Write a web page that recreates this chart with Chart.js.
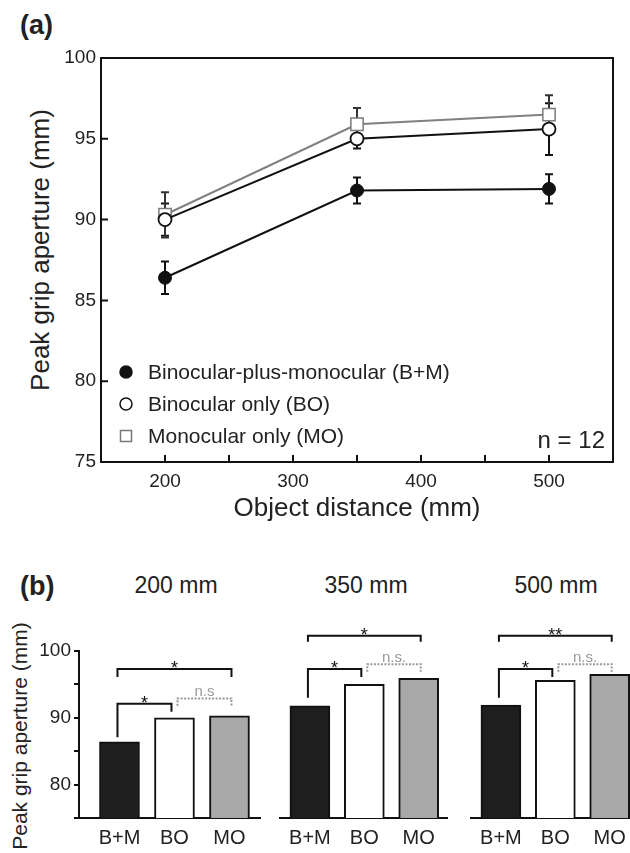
<!DOCTYPE html>
<html>
<head>
<meta charset="utf-8">
<script src="https://cdn.jsdelivr.net/npm/chart.js@4.4.1/dist/chart.umd.min.js"></script>
<style>
  body { margin: 0; width: 630px; height: 853px; overflow: hidden; background: #fff; position: relative;
         font-family: "Liberation Sans", Arial, Helvetica, sans-serif; color: #222; }
  canvas, .lbl { position: absolute; }
  .panel { font-weight: bold; font-size: 27px; line-height: 30px; }
  .dist { font-size: 23px; line-height: 28px; transform: translateX(-50%); white-space: nowrap; }
  .ytitle { line-height: 30px; width: 320px; text-align: center; transform: rotate(-90deg); white-space: nowrap; }
</style>
</head>
<body>
<div class="lbl panel" style="left:20px; top:10px;">(a)</div>
<div class="lbl ytitle" style="font-size:26px; left:-120px; top:235px;">Peak grip aperture (mm)</div>
<canvas id="lineChart" width="630" height="545" style="left:0; top:0;"></canvas>

<div class="lbl panel" style="left:20px; top:571px;">(b)</div>
<div class="lbl dist" style="left:176px; top:571px;">200 mm</div>
<div class="lbl dist" style="left:366px; top:571px;">350 mm</div>
<div class="lbl dist" style="left:556px; top:571px;">500 mm</div>
<div class="lbl ytitle" style="font-size:21px; left:-140px; top:721px;">Peak grip aperture (mm)</div>
<canvas id="bar200" width="270" height="263" style="left:0; top:590px;"></canvas>
<canvas id="bar350" width="190" height="263" style="left:270px; top:590px;"></canvas>
<canvas id="bar500" width="190" height="263" style="left:461px; top:590px;"></canvas>

<script>
"use strict";
const distances = [200, 350, 500];
const seriesNames = ["Binocular-plus-monocular (B+M)", "Binocular only (BO)", "Monocular only (MO)"];
const shortNames = ["B+M", "BO", "MO"];
const meanBM = [86.4, 91.8, 91.9];
const meanBO = [90.0, 95.0, 95.6];
const meanMO = [90.3, 95.9, 96.5];
const errBM = [1.0, 0.8, 0.9];
const errBO = [1.0, 0.6, 1.6];
const errMO = [1.4, 1.0, 1.2];
const xLabelsA = [200, 300, 400, 500];
const yLabelsB = [80, 90, 100];

// pairwise comparisons per distance: bar indices, bracket level and leg ends (mm)
const sig200 = [
    { a: 0, b: 2, y: 97.3, legA: 96.1, legB: 96.1, text: "*" },
    { a: 0, b: 1, y: 92.1, legA: 87.1, legB: 90.9, text: "*" },
    { a: 1, b: 2, y: 92.9, legA: 91.8, legB: 91.8, text: "n.s", ns: true }
];
const sig350 = [
    { a: 0, b: 2, y: 102.3, legA: 101.4, legB: 101.4, text: "*" },
    { a: 0, b: 1, y: 97.3, legA: 93.0, legB: 96.1, text: "*" },
    { a: 1, b: 2, y: 98.0, legA: 96.9, legB: 96.9, text: "n.s.", ns: true }
];
const sig500 = [
    { a: 0, b: 2, y: 102.3, legA: 101.4, legB: 101.4, text: "**" },
    { a: 0, b: 1, y: 97.3, legA: 93.0, legB: 96.1, text: "*" },
    { a: 1, b: 2, y: 98.0, legA: 96.9, legB: 96.9, text: "n.s.", ns: true }
];

const FONT = "'Liberation Sans', Arial, Helvetica, sans-serif";
const INK = "#222";
Chart.defaults.font.family = FONT;
Chart.defaults.color = INK;

// ---------- (a) line chart ----------

const boxAndTicks = {
    id: "boxAndTicks",
    afterDatasetsDraw(chart) {
        const { ctx, chartArea: ca, scales: { x, y } } = chart;
        ctx.save();
        ctx.strokeStyle = "#111";
        ctx.lineWidth = 2;
        ctx.strokeRect(ca.left, ca.top, ca.right - ca.left, ca.bottom - ca.top);
        ctx.beginPath();
        x.ticks.forEach(t => {
            if (t.value <= x.min || t.value >= x.max) return;
            const px = x.getPixelForValue(t.value);
            ctx.moveTo(px, ca.bottom);
            ctx.lineTo(px, ca.bottom - 7);
        });
        y.ticks.forEach(t => {
            if (t.value <= y.min || t.value >= y.max) return;
            const py = y.getPixelForValue(t.value);
            ctx.moveTo(ca.left, py);
            ctx.lineTo(ca.left + 7, py);
        });
        ctx.stroke();
        ctx.restore();
    }
};

const errorBars = {
    id: "errorBars",
    beforeDatasetsDraw(chart) {
        const { ctx, scales: { x, y } } = chart;
        ctx.save();
        ctx.lineWidth = 2;
        chart.data.datasets.forEach(ds => {
            ctx.strokeStyle = ds.errorColor;
            ds.data.forEach((pt, i) => {
                const px = x.getPixelForValue(pt.x);
                const top = y.getPixelForValue(pt.y + ds.errors[i]);
                const bot = y.getPixelForValue(pt.y - ds.errors[i]);
                ctx.beginPath();
                ctx.moveTo(px, top); ctx.lineTo(px, bot);
                ctx.moveTo(px - 4, top); ctx.lineTo(px + 4, top);
                ctx.moveTo(px - 4, bot); ctx.lineTo(px + 4, bot);
                ctx.stroke();
            });
        });
        ctx.restore();
    }
};

const insideLegend = {
    id: "insideLegend",
    afterDraw(chart) {
        const { ctx, chartArea: ca } = chart;
        ctx.save();
        ctx.font = "21px " + FONT;
        ctx.textBaseline = "middle";
        const rows = chart.data.datasets.length;
        chart.data.datasets.forEach((ds, i) => {
            const cx = ca.left + 25;
            const cy = ca.bottom - 26 - (rows - 1 - i) * 32;
            ctx.lineWidth = 1.5;
            ctx.strokeStyle = ds.pointBorderColor;
            ctx.fillStyle = ds.pointBackgroundColor;
            ctx.beginPath();
            if (ds.pointStyle === "rect") {
                ctx.rect(cx - 5.5, cy - 5.5, 11, 11);
            } else {
                ctx.arc(cx, cy, 6, 0, Math.PI * 2);
            }
            ctx.fill();
            ctx.stroke();
            ctx.fillStyle = INK;
            ctx.fillText(ds.label, cx + 22, cy + 1);
        });
        ctx.font = "24px " + FONT;
        ctx.textAlign = "right";
        ctx.textBaseline = "alphabetic";
        ctx.fillText("n = 12", ca.right - 8, ca.bottom - 14);
        ctx.restore();
    }
};

function series(label, means, errors, style) {
    return Object.assign({
        label: label,
        data: distances.map((d, i) => ({ x: d, y: means[i] })),
        errors: errors,
        borderWidth: 2,
        tension: 0
    }, style);
}

new Chart(document.getElementById("lineChart"), {
    type: "line",
    data: {
        datasets: [
            series(seriesNames[0], meanBM, errBM, {
                borderColor: "#111", pointStyle: "circle", pointRadius: 6.5,
                pointBackgroundColor: "#111", pointBorderColor: "#111", pointBorderWidth: 1, errorColor: "#111"
            }),
            series(seriesNames[1], meanBO, errBO, {
                borderColor: "#111", pointStyle: "circle", pointRadius: 6.5,
                pointBackgroundColor: "#fff", pointBorderColor: "#111", pointBorderWidth: 1.8, errorColor: "#111"
            }),
            series(seriesNames[2], meanMO, errMO, {
                borderColor: "#808080", pointStyle: "rect", pointRadius: 8.7,
                pointBackgroundColor: "#fff", pointBorderColor: "#7a7a7a", pointBorderWidth: 1.5, errorColor: "#333"
            })
        ]
    },
    options: {
        responsive: false,
        animation: false,
        events: [],
        layout: { padding: { top: 58, right: 17, left: 0, bottom: 0 } },
        plugins: { legend: { display: false }, tooltip: { enabled: false } },
        scales: {
            x: {
                type: "linear", min: 150, max: 550,
                afterFit: s => { s.height = 83; },
                grid: { display: false, drawTicks: false },
                border: { display: false },
                ticks: {
                    stepSize: 50, autoSkip: false, maxRotation: 0, padding: 8,
                    font: { size: 19 }, color: INK,
                    callback: v => xLabelsA.includes(v) ? v : ""
                },
                title: { display: true, text: "Object distance (mm)", font: { size: 26 }, color: INK, padding: { bottom: 21 } }
            },
            y: {
                min: 75, max: 100,
                afterFit: s => { s.width = 101; },
                grid: { display: false, drawTicks: false },
                border: { display: false },
                ticks: { stepSize: 5, padding: 5, font: { size: 19 }, color: INK }
            }
        }
    },
    plugins: [errorBars, boxAndTicks, insideLegend]
});

// ---------- (b) bar charts ----------

const brackets = {
    id: "brackets",
    afterDraw(chart) {
        const { ctx, scales: { x, y } } = chart;
        const sig = chart.options.plugins.brackets.items;
        ctx.save();
        sig.forEach(s => {
            // leave a small gap where two brackets land on the same bar
            const x1 = x.getPixelForValue(s.a) - 2 + (s.a === 1 ? 5 : 0);
            const x2 = x.getPixelForValue(s.b) + 2 - (s.b === 1 ? 5 : 0);
            const yb = y.getPixelForValue(s.y);
            ctx.beginPath();
            ctx.moveTo(x1, y.getPixelForValue(s.legA));
            ctx.lineTo(x1, yb);
            ctx.lineTo(x2, yb);
            ctx.lineTo(x2, y.getPixelForValue(s.legB));
            ctx.lineWidth = 2;
            if (s.ns) {
                ctx.strokeStyle = "#9a9a9a";
                ctx.setLineDash([2, 1.5]);
            } else {
                ctx.strokeStyle = "#111";
                ctx.setLineDash([]);
            }
            ctx.stroke();
            ctx.setLineDash([]);
            ctx.textAlign = "center";
            ctx.textBaseline = "alphabetic";
            if (s.ns) {
                ctx.fillStyle = "#999";
                ctx.font = "15px " + FONT;
                ctx.fillText(s.text, (x1 + x2) / 2, yb - 2);
            } else {
                ctx.fillStyle = "#111";
                ctx.font = "18px " + FONT;
                ctx.fillText(s.text, (x1 + x2) / 2, yb + 5);
            }
        });
        ctx.restore();
    }
};

function barChart(id, means, sig, withAxis) {
    return new Chart(document.getElementById(id), {
        type: "bar",
        data: {
            datasets: [{
                data: means.map((v, i) => ({ x: i, y: v })),
                backgroundColor: ["#1e1e1e", "#ffffff", "#a8a8a8"],
                borderColor: "#111",
                borderWidth: 2,
                barThickness: 40
            }]
        },
        options: {
            responsive: false,
            animation: false,
            events: [],
            layout: { padding: withAxis ? { top: 61, left: 0, right: 10, bottom: 0 } : { top: 61, left: 10, right: 13, bottom: 0 } },
            plugins: { legend: { display: false }, tooltip: { enabled: false }, brackets: { items: sig } },
            scales: {
                x: {
                    type: "linear",
                    offset: false,
                    min: withAxis ? -0.736 : -0.55,
                    max: withAxis ? 2.555 : 2.52,
                    z: 1,
                    afterBuildTicks: s => { s.ticks = shortNames.map((n, i) => ({ value: i })); },
                    afterFit: s => { s.height = 35; },
                    grid: { display: false, drawTicks: false },
                    border: { display: true, color: "#111", width: 2 },
                    ticks: {
                        autoSkip: false, maxRotation: 0, padding: 8,
                        font: { size: 20 }, color: INK,
                        callback: v => shortNames[v]
                    }
                },
                y: {
                    display: withAxis,
                    min: 75, max: 100,
                    afterFit: s => { if (withAxis) s.width = 79; },
                    grid: { display: true, drawOnChartArea: false, drawTicks: true, tickLength: 5, lineWidth: 2, color: "#111" },
                    border: { display: true, color: "#111", width: 2 },
                    ticks: {
                        stepSize: 5, padding: 3, font: { size: 19 }, color: INK,
                        callback: v => yLabelsB.includes(v) ? v : ""
                    }
                }
            }
        },
        plugins: [brackets]
    });
}

barChart("bar200", [meanBM[0], meanBO[0], meanMO[0]], sig200, true);
barChart("bar350", [meanBM[1], meanBO[1], meanMO[1]], sig350, false);
barChart("bar500", [meanBM[2], meanBO[2], meanMO[2]], sig500, false);
</script>
</body>
</html>
